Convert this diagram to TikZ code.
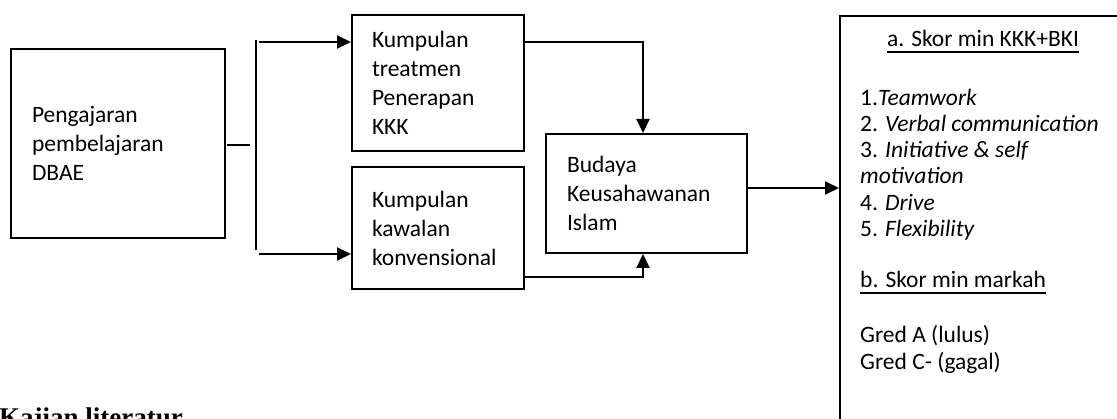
\documentclass[tikz,border=0pt]{standalone}
\usepackage{fontspec}
\setmainfont{Carlito}
\newfontfamily\serifbold{Liberation Serif}
\usetikzlibrary{arrows.meta}
\newcommand{\fs}{\fontsize{23.5}{29}\selectfont}
\begin{document}
\begin{tikzpicture}[x=1pt,y=-1pt,
  box/.style={draw,line width=2pt,inner ysep=0pt,inner xsep=10pt,align=left,font=\fs},
  conn/.style={line width=2pt},
  arr/.style={line width=2pt,-{Triangle[length=14pt,width=13pt]}},
  txt/.style={inner sep=0pt,anchor=base west,font=\fs},
  uline/.style={line width=1.8pt}]
\useasboundingbox (0,0) rectangle (1117,419);
\clip (0,0) rectangle (1117,419);

% boxes
\node[box,minimum width=214pt,minimum height=189pt,text width=172pt] (teach) at (118,143.5) {Pengajaran\\pembelajaran\\DBAE};
\node[box,minimum width=172pt,minimum height=136pt,text width=132pt] (treat) at (438,83) {Kumpulan\\treatmen\\Penerapan\\KKK};
\node[box,minimum width=172pt,minimum height=122pt,text width=132pt] (ctrl) at (438,228) {Kumpulan\\kawalan\\konvensional};
\node[box,minimum width=201pt,minimum height=119pt,text width=159pt] (budaya) at (646.5,193.5) {Budaya\\Keusahawanan\\Islam};
\node[draw,line width=2pt,minimum width=330pt,minimum height=450pt,anchor=north west,inner sep=0pt] (result) at (839,15) {};

% result texts
\node[txt,anchor=base] (ha) at (983,47) {a. Skor min KKK+BKI};
\draw[uline] ([yshift=-5pt]ha.base west) -- ([yshift=-5pt]ha.base east);
\node[txt] (r1) at (860,106) {1.\textit{Teamwork}};
\node[txt] (r2) at (860,132) {2. \textit{Verbal communication}};
\node[txt] (r3) at (860,158) {3. \textit{Initiative \& self}};
\node[txt] (r4) at (860,184) {\textit{motivation}};
\node[txt] (r5) at (860,211) {4. \textit{Drive}};
\node[txt] (r6) at (860,237) {5. \textit{Flexibility}};
\node[txt] (hb) at (860,288) {b. Skor min markah};
\draw[uline] ([yshift=-5pt]hb.base west) -- ([yshift=-5pt]hb.base east);
\node[txt] (g1) at (860,343) {Gred A (lulus)};
\node[txt] (g2) at (860,370) {Gred C- (gagal)};

\node[inner sep=0pt,anchor=base west,font=\serifbold\bfseries\fontsize{27}{30}\selectfont] (kajian) at (-1,427) {Kajian literatur};

% connectors
\coordinate (s1) at (227,145);
\coordinate (s2) at (250,145);
\draw[conn] (s1) -- (s2);
\coordinate (vt) at (256,40);
\coordinate (vb) at (256,250);
\draw[line width=1.5pt] (vt) -- (vb);
\coordinate (at) at (259,42);
\coordinate (ab) at (259,254);
\draw[arr] (at) -- (at -| treat.west);
\draw[arr] (ab) -- (ab -| ctrl.west);
\coordinate (j1) at (643,42);
\coordinate (j2) at (643,277);
\coordinate (j3) at (790,188);
\draw[arr] (treat.east |- j1) -| (j1 |- budaya.north);
\draw[arr] (ctrl.east |- j2) -| (j2 |- budaya.south);
\draw[arr] (budaya.east |- j3) -- (result.west |- j3);
\end{tikzpicture}
\end{document}
